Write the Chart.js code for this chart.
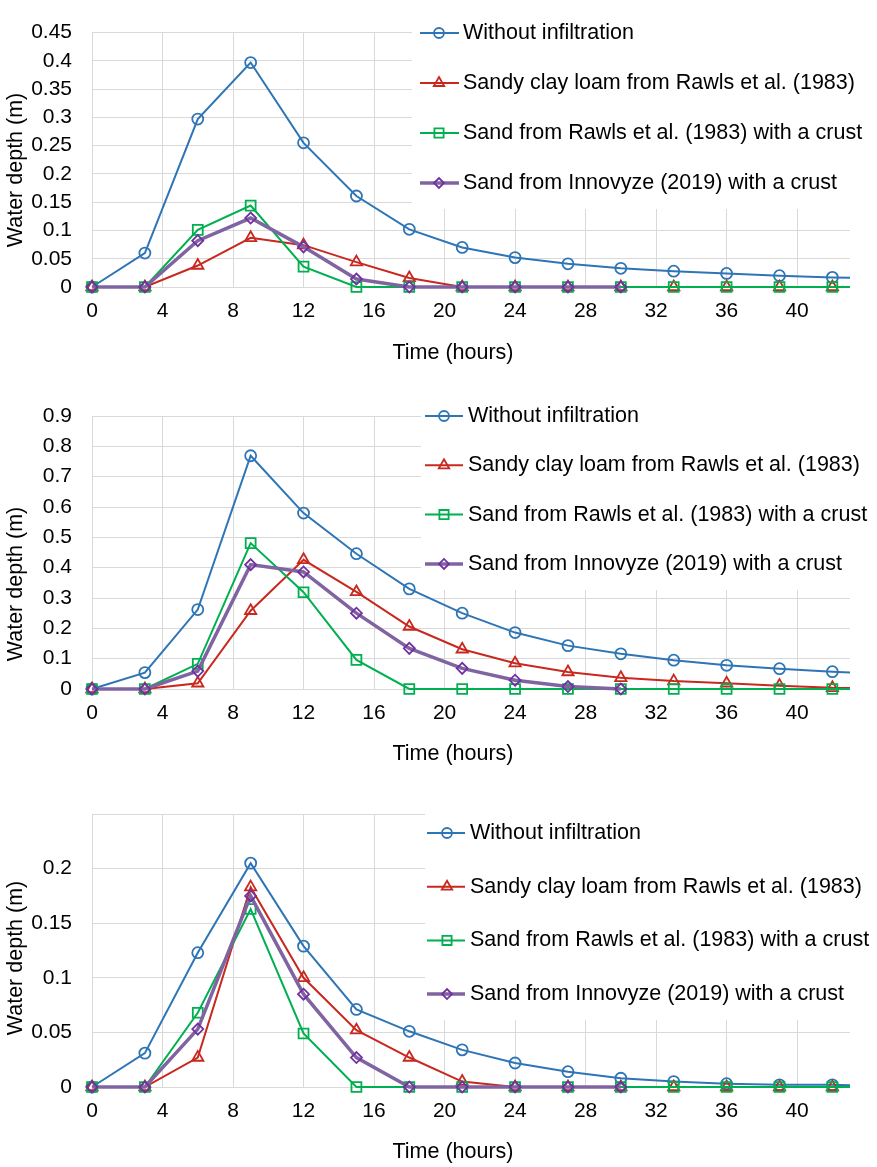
<!DOCTYPE html>
<html lang="en">
<head>
<meta charset="utf-8">
<title>Water depth over time</title>
<script src="https://cdn.jsdelivr.net/npm/chart.js@4.4.1/dist/chart.umd.min.js"></script>
<style>
  html, body { margin: 0; padding: 0; background: #fff; }
  body { width: 877px; height: 1167px; position: relative; overflow: hidden; }
  .painel { position: absolute; left: 0; width: 877px; }
  canvas { display: block; }
</style>
</head>
<body>
<div class="painel" style="top:0"><canvas id="chart-a" width="877" height="368"></canvas></div>
<div class="painel" style="top:370px"><canvas id="chart-b" width="877" height="399"></canvas></div>
<div class="painel" style="top:771px"><canvas id="chart-c" width="877" height="396"></canvas></div>
<script>
// --- DATA ---
const hours = [0, 3, 6, 9, 12, 15, 18, 21, 24, 27, 30, 33, 36, 39, 42, 45];
const seriesLabels = [
    "Without infiltration",
    "Sandy clay loam from Rawls et al. (1983)",
    "Sand from Rawls et al. (1983) with a crust",
    "Sand from Innovyze (2019) with a crust"
];
const xTicks = [0, 4, 8, 12, 16, 20, 24, 28, 32, 36, 40];

// top panel
const noInfiltA = [0, 0.060, 0.297, 0.397, 0.255, 0.161, 0.102, 0.070, 0.052, 0.041, 0.033, 0.028, 0.024, 0.020, 0.017, 0.015];
const clayLoamA = [0, 0, 0.038, 0.087, 0.074, 0.044, 0.016, 0, 0, 0, 0, 0, 0, 0, 0, 0];
const sandRawlsA = [0, 0, 0.101, 0.144, 0.036, 0, 0, 0, 0, 0, 0, 0, 0, 0, 0, 0];
const sandInnovyzeA = [0, 0, 0.082, 0.122, 0.071, 0.014, 0, 0, 0, 0, 0];
const yTicksA = [0, 0.05, 0.1, 0.15, 0.2, 0.25, 0.3, 0.35, 0.4, 0.45];

// middle panel
const noInfiltB = [0, 0.054, 0.262, 0.769, 0.580, 0.446, 0.330, 0.250, 0.186, 0.143, 0.116, 0.095, 0.078, 0.067, 0.057, 0.050];
const clayLoamB = [0, 0, 0.019, 0.258, 0.426, 0.320, 0.206, 0.131, 0.085, 0.056, 0.037, 0.026, 0.019, 0.011, 0.004, 0.001];
const sandRawlsB = [0, 0, 0.083, 0.481, 0.319, 0.096, 0, 0, 0, 0, 0, 0, 0, 0, 0, 0];
const sandInnovyzeB = [0, 0, 0.059, 0.410, 0.386, 0.250, 0.134, 0.068, 0.029, 0.008, 0];
const yTicksB = [0, 0.1, 0.2, 0.3, 0.4, 0.5, 0.6, 0.7, 0.8, 0.9];

// bottom panel
const noInfiltC = [0, 0.031, 0.123, 0.205, 0.129, 0.071, 0.051, 0.034, 0.022, 0.014, 0.008, 0.005, 0.003, 0.002, 0.002, 0.001];
const clayLoamC = [0, 0, 0.027, 0.183, 0.100, 0.052, 0.027, 0.005, 0, 0, 0, 0, 0, 0, 0, 0];
const sandRawlsC = [0, 0, 0.068, 0.163, 0.049, 0, 0, 0, 0, 0, 0, 0, 0, 0, 0, 0];
const sandInnovyzeC = [0, 0, 0.053, 0.175, 0.085, 0.027, 0, 0, 0, 0, 0];
const yTicksC = [0, 0.05, 0.1, 0.15, 0.2, 0.25];

// --- STYLES ---
const FONTE = "'Liberation Sans', Arial, sans-serif";
const estilos = [
    { linha: "#2e75b6", ponto: "#2e75b6", marcador: "circle", raio: 5.5, espessura: 2 },
    { linha: "#c8281e", ponto: "#c8281e", marcador: "triangle", raio: 6.5, espessura: 2 },
    { linha: "#00b050", ponto: "#00b050", marcador: "rect", raio: 7, espessura: 2 },
    { linha: "#8064a2", ponto: "#7030a0", marcador: "rectRot", raio: 5.5, espessura: 3.5 }
];

function montarDatasets(valores) {
    return valores.map((serie, i) => ({
        label: seriesLabels[i],
        data: serie.map((v, k) => ({ x: hours[k], y: v })),
        borderColor: estilos[i].linha,
        borderWidth: estilos[i].espessura,
        pointStyle: estilos[i].marcador,
        pointRadius: estilos[i].raio,
        pointBorderColor: estilos[i].ponto,
        pointBackgroundColor: "rgba(255,255,255,0)",
        pointBorderWidth: 1.8,
        tension: 0,
        order: 4 - i,
        clip: { left: 10, top: 10, right: 0, bottom: 10 }
    }));
}

// legend drawn over the upper right of the plot + axis titles placed like the original
const decoracao = {
    id: "decoracao",
    beforeDatasetsDraw(chart, args, o) {
        const ctx = chart.ctx;
        ctx.save();
        ctx.fillStyle = "#fff";
        ctx.fillRect(o.caixaX, 0, chart.width - o.caixaX, o.caixaBase);
        ctx.restore();
    },
    afterDraw(chart, args, o) {
        const ctx = chart.ctx;
        ctx.save();
        ctx.font = "21.5px " + FONTE;
        ctx.textBaseline = "middle";
        chart.data.datasets.forEach((ds, i) => {
            const y = o.y0 + i * o.passo;
            ctx.strokeStyle = ds.borderColor;
            ctx.lineWidth = ds.borderWidth;
            ctx.beginPath();
            ctx.moveTo(o.linhaX0, y);
            ctx.lineTo(o.linhaX1, y);
            ctx.stroke();
            ctx.strokeStyle = ds.pointBorderColor;
            ctx.fillStyle = "rgba(255,255,255,0)";
            ctx.lineWidth = ds.pointBorderWidth;
            Chart.helpers.drawPoint(ctx, { pointStyle: ds.pointStyle, radius: ds.pointRadius - 0.5, rotation: 0, borderWidth: ds.pointBorderWidth }, o.marcadorX, y);
            ctx.fillStyle = "#000";
            ctx.textAlign = "left";
            ctx.fillText(ds.label, o.textoX, y);
        });
        // axis titles
        ctx.fillStyle = "#000";
        ctx.textAlign = "center";
        ctx.fillText("Time (hours)", o.tituloX, o.tituloXY);
        ctx.translate(16, o.tituloY);
        ctx.rotate(-Math.PI / 2);
        ctx.fillText("Water depth (m)", 0, 0);
        ctx.restore();
    }
};

function criarGrafico(id, valores, yTicks, ocultarTopo, layout) {
    const yMax = yTicks[yTicks.length - 1];
    return new Chart(document.getElementById(id), {
        type: "line",
        data: { datasets: montarDatasets(valores) },
        plugins: [decoracao],
        options: {
            responsive: false,
            animation: false,
            layout: { padding: { top: layout.topo, right: 27, left: 0, bottom: 0 } },
            plugins: {
                legend: { display: false },
                tooltip: { enabled: false },
                decoracao: layout.legenda
            },
            scales: {
                x: {
                    type: "linear",
                    min: 0,
                    max: 43,
                    afterFit: (s) => { s.height = layout.alturaX; },
                    afterBuildTicks: (s) => { s.ticks = xTicks.map(v => ({ value: v })); },
                    grid: { color: "#d9d9d9", lineWidth: 1, drawTicks: false },
                    border: { display: false },
                    ticks: { color: "#000", padding: 12, font: { family: FONTE, size: 21 } }
                },
                y: {
                    min: 0,
                    max: yMax,
                    afterFit: (s) => { s.width = 92; },
                    afterBuildTicks: (s) => { s.ticks = yTicks.map(v => ({ value: v })); },
                    grid: { color: "#d9d9d9", lineWidth: 1, drawTicks: false },
                    border: { display: false },
                    ticks: {
                        color: "#000",
                        padding: 20,
                        font: { family: FONTE, size: 21 },
                        callback: (v) => (ocultarTopo && v === yMax) ? "" : String(Number(v.toFixed(2)))
                    }
                }
            }
        }
    });
}

criarGrafico("chart-a", [noInfiltA, clayLoamA, sandRawlsA, sandInnovyzeA], yTicksA, false, {
    topo: 14, alturaX: 81,
    legenda: { caixaX: 412, caixaBase: 209, y0: 33, passo: 50, linhaX0: 420, linhaX1: 459, marcadorX: 439, textoX: 463, tituloX: 453, tituloXY: 353, tituloY: 170 }
});
criarGrafico("chart-b", [noInfiltB, clayLoamB, sandRawlsB, sandInnovyzeB], yTicksB, false, {
    topo: 46, alturaX: 80,
    legenda: { caixaX: 421, caixaBase: 220, y0: 46, passo: 49.3, linhaX0: 425, linhaX1: 463, marcadorX: 444, textoX: 468, tituloX: 453, tituloXY: 384, tituloY: 214 }
});
criarGrafico("chart-c", [noInfiltC, clayLoamC, sandRawlsC, sandInnovyzeC], yTicksC, true, {
    topo: 43, alturaX: 80,
    legenda: { caixaX: 425, caixaBase: 249, y0: 62, passo: 53.7, linhaX0: 427, linhaX1: 465, marcadorX: 447, textoX: 470, tituloX: 453, tituloXY: 381, tituloY: 187 }
});
</script>
</body>
</html>
